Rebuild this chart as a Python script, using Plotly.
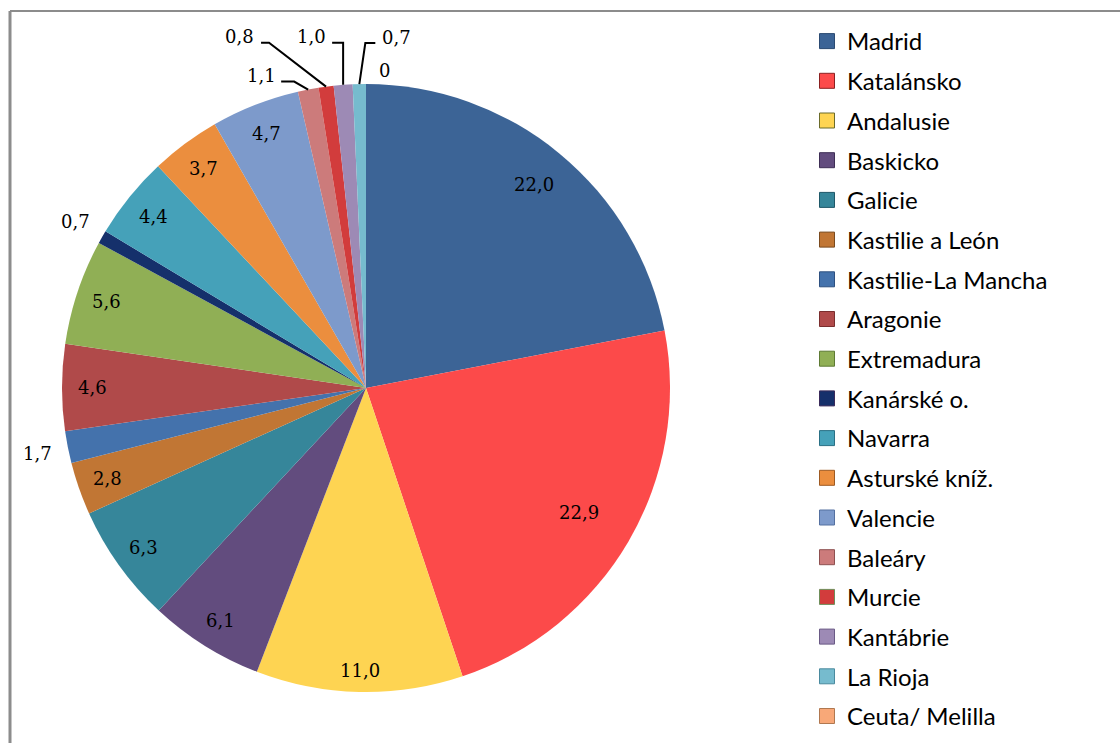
import math
import plotly.graph_objects as go

regions = ["Madrid", "Katalánsko", "Andalusie", "Baskicko", "Galicie", "Kastilie a León",
           "Kastilie-La Mancha", "Aragonie", "Extremadura", "Kanárské o.", "Navarra",
           "Asturské kníž.", "Valencie", "Baleáry", "Murcie", "Kantábrie", "La Rioja",
           "Ceuta/ Melilla"]
shares = [22.0, 22.9, 11.0, 6.1, 6.3, 2.8, 1.7, 4.6, 5.6, 0.7, 4.4, 3.7, 4.7, 1.1, 0.8, 1.0, 0.7, 0.0]
colors = ["#3C6496", "#FC4A4A", "#FED452", "#624C7E", "#36869A", "#C17634", "#4472AC",
          "#B04A4A", "#90AF55", "#15306B", "#45A1B9", "#EB8E3E", "#7D9ACB", "#CC7B7B",
          "#D23C3C", "#9D8AB5", "#76BBCE", "#F8A878"]
borders = ["#2B4A72", "#8A2020", "#6B6B2A", "#3E2E55", "#1F5868", "#7A4A1E", "#2E5080",
           "#7A2E2E", "#5E7A34", "#3A2A5A", "#2A7085", "#9E5A22", "#5570A0", "#8E5050",
           "#6E8E5A", "#6A5A85", "#4A8A9E", "#B07850"]

W, H = 1120, 743
CX, CY, R = 366, 388, 304

labels_txt = ["0" if v == 0 else f"{v:.1f}".replace(".", ",") for v in shares]

# label placement styles (radius fraction for inside labels, offsets for outside ones)
inside_r = {0: 0.87, 1: 0.81, 2: 0.93}
radial_out = {6: 31, 9: 31}
leader = {  # text offset, elbow offset, end offset (pixels from rim point)
    13: ((-47, -14), (-14, -8), (-27, -8)),
    14: ((-87, -50), (-57, -44), (-65, -44)),
    15: ((-32, -48), (0, -42), (-11, -42)),
    16: ((37, -47), (6, -41), (16, -41)),
}
plain_out = {17: (19, -14)}

LFONT = dict(family="DejaVu Serif", size=18, color="black")

fig = go.Figure()
fig.add_trace(go.Pie(
    labels=regions, values=shares, textinfo="none", sort=False,
    direction="clockwise", rotation=0,
    marker=dict(colors=colors, line=dict(width=0)),
    domain=dict(x=[(CX - R) / W, (CX + R) / W], y=[1 - (CY + R) / H, 1 - (CY - R) / H]),
    showlegend=False, hoverinfo="skip",
))

for name, c, b in zip(regions, colors, borders):
    fig.add_trace(go.Scatter(x=[None], y=[None], mode="markers", name=name,
                             legendgroup=name,
                             marker=dict(symbol="square", size=15, color=c, line=dict(color=b, width=1))))


def P(px, py):
    return px / W, 1 - py / H


def label(px, py, txt):
    x, y = P(px, py)
    return dict(x=x, y=y, xref="paper", yref="paper", text=txt, showarrow=False,
                xanchor="center", yanchor="middle", font=LFONT)


total = sum(shares)
cum = 0
annotations, shapes = [], []
for i, v in enumerate(shares):
    mid = (cum + v / 2) / total * 2 * math.pi
    cum += v
    dx, dy = math.sin(mid), -math.cos(mid)
    rx, ry = CX + R * dx, CY + R * dy
    if i in leader:
        (tx, ty), (ex, ey), (nx, ny) = leader[i]
        annotations.append(label(rx + tx, ry + ty, labels_txt[i]))
        x0, y0 = P(rx, ry)
        x1, y1 = P(rx + ex, ry + ey)
        x2, y2 = P(rx + nx, ry + ny)
        shapes.append(dict(type="path", xref="paper", yref="paper",
                           path=f"M {x0} {y0} L {x1} {y1} L {x2} {y2}",
                           line=dict(color="black", width=2)))
    elif i in plain_out:
        tx, ty = plain_out[i]
        annotations.append(label(rx + tx, ry + ty, labels_txt[i]))
    elif i in radial_out:
        rr = R + radial_out[i]
        annotations.append(label(CX + rr * dx, CY + rr * dy, labels_txt[i]))
    else:
        rr = R * inside_r.get(i, 0.9)
        annotations.append(label(CX + rr * dx, CY + rr * dy, labels_txt[i]))

shapes += [
    dict(type="line", xref="paper", yref="paper", x0=10 / W, x1=10 / W, y0=0, y1=1 - 11 / H,
         line=dict(color="#8C8C8C", width=3)),
    dict(type="line", xref="paper", yref="paper", x0=10 / W, x1=1, y0=1 - 11 / H, y1=1 - 11 / H,
         line=dict(color="#8C8C8C", width=2)),
]

fig.update_layout(
    width=W, height=H, margin=dict(l=0, r=0, t=0, b=0),
    paper_bgcolor="white", plot_bgcolor="white",
    xaxis=dict(visible=False), yaxis=dict(visible=False),
    annotations=annotations, shapes=shapes,
    legend=dict(x=807 / W, y=1 - 19 / H, xanchor="left", yanchor="top",
                font=dict(family="Lato", size=24, color="black"),
                tracegroupgap=5.5, bgcolor="rgba(0,0,0,0)", maxheight=1.0),
)

fig.write_html("out.html")
